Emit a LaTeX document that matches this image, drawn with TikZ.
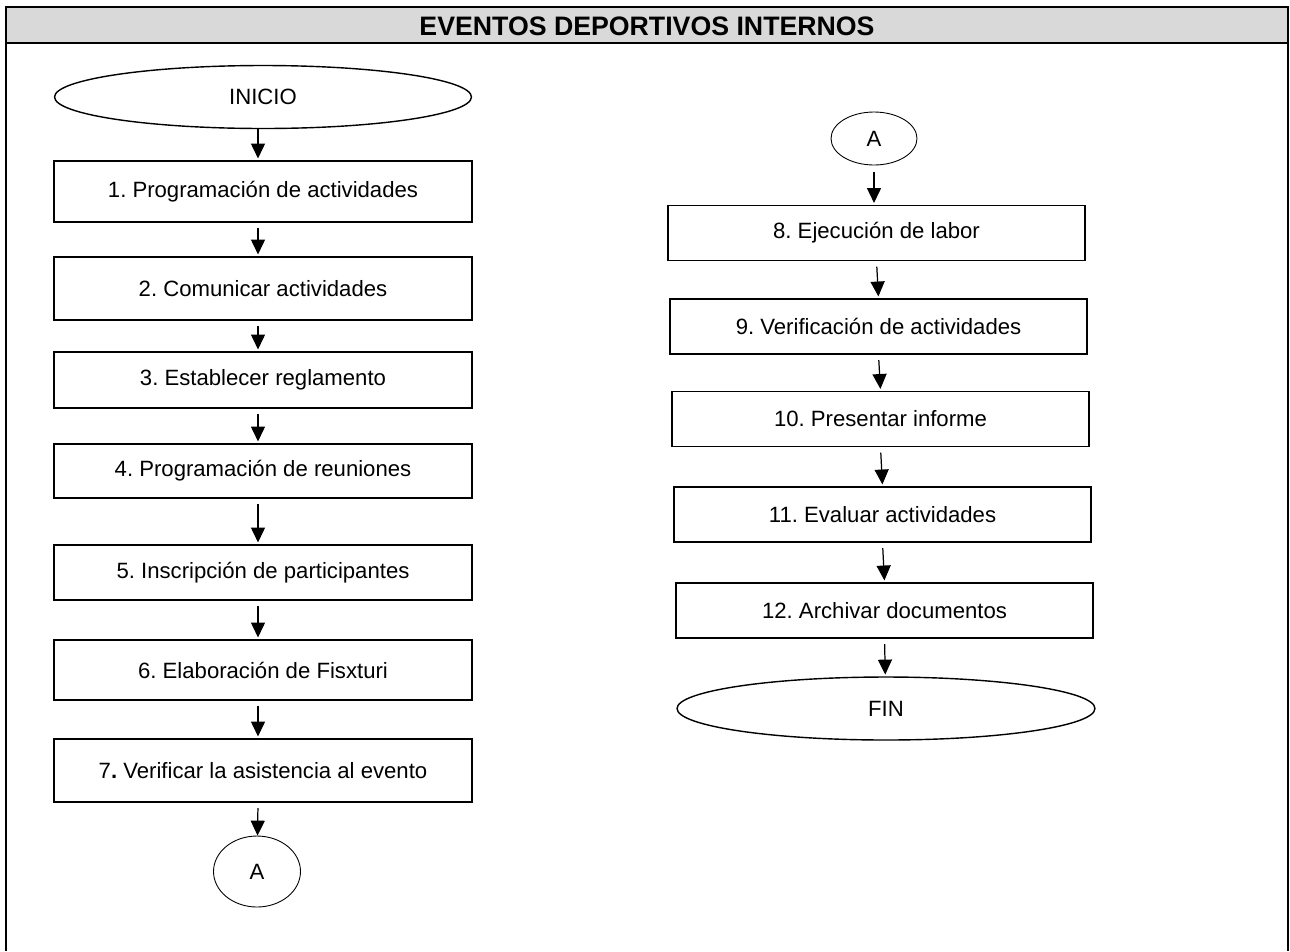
\documentclass[tikz,border=0pt]{standalone}
\usepackage{fontspec}
\setmainfont{Liberation Sans}
\usepackage{xcolor}
\usepackage{tikz}
\usetikzlibrary{arrows.meta,shapes.geometric}
\definecolor{titlegray}{RGB}{217,217,217}
\frenchspacing

\begin{document}
\begin{tikzpicture}[x=0.02cm,y=-0.02cm,>={Triangle[length=8.5pt,width=8pt]}] % diagrama de flujo
	\useasboundingbox (0,0) rectangle (1290,951);
	
	% marco y titulo
	\fill[titlegray] (6,7) rectangle (1288,43);
	\draw[line width=1.3pt] (6,951) -- (6,7) -- (1288,7) -- (1288,951);
	\draw[line width=1.3pt] (6,43) -- (1288,43);
	\node[text=black,font={\fontsize{15.2}{18}\selectfont\bfseries}] 
	(titulo) at (647,26){EVENTOS DEPORTIVOS INTERNOS};
	
	\node[ellipse,draw,line width=0.8pt,text=black,font={\fontsize{12.6}{15}\selectfont},minimum width=8.34cm,minimum height=1.26cm] 
	(ini) at (263,97){INICIO};
	
	\foreach \i/\y/\h/\name in {1/191.5/1.22/{1. Programación de actividades},2/288.5/1.26/{2. Comunicar actividades},3/380/1.12/{3. Establecer reglamento},4/471/1.08/{4. Programación de reuniones},5/572.5/1.1/{5. Inscripción de participantes},6/670/1.2/{6. Elaboración de Fisxturi},7/770.5/1.26/{7\textbf{.} Verificar la asistencia al evento}}{
		\node[rectangle,draw,line width=0.9pt,text=black,font={\fontsize{12.6}{15}\selectfont},minimum width=8.36cm,minimum height=\h cm] 
		(b\i) at (263,\y){\name};
	}
	
	\foreach \i/\x/\y/\name in {8/876.5/233/{8. Ejecución de labor},9/878.5/326.5/{9. Verificación de actividades},10/880.5/419/{10. Presentar informe},11/882.5/514.5/{11. Evaluar actividades},12/884.5/610.5/{12. Archivar documentos}}{
		\node[rectangle,draw,line width=0.9pt,text=black,font={\fontsize{12.6}{15}\selectfont},minimum width=8.34cm,minimum height=1.1cm] 
		(b\i) at (\x,\y){\name};
	}
	
	\node[ellipse,draw,line width=0.8pt,text=black,font={\fontsize{12.6}{15}\selectfont},minimum width=8.36cm,minimum height=1.26cm] 
	(fin) at (886,708.5){FIN};
	
	% conectores A
	\node[ellipse,draw,line width=0.5pt,text=black,font={\fontsize{12.6}{15}\selectfont},minimum width=1.74cm,minimum height=1.42cm] 
	(a1) at (257,871.5){A};
	\node[ellipse,draw,line width=0.5pt,text=black,font={\fontsize{12.6}{15}\selectfont},minimum width=1.72cm,minimum height=1.06cm] 
	(a2) at (874,138.5){A};
	
	% flechas
	\draw[->,line width=0.7pt,shorten >=1pt] ([xshift=-0.1cm]ini.south) -- ([xshift=-0.1cm]b1.north);
	\foreach \i/\j in {1/2,2/3,3/4,4/5,5/6,6/7}{
		\draw[->,line width=0.7pt,shorten <=3pt,shorten >=1pt] ([xshift=-0.1cm]b\i.south) -- ([xshift=-0.1cm]b\j.north);}
	\draw[->,line width=0.7pt,shorten <=3pt] ([xshift=-0.1cm]b7.south) -- (a1);
	
	\draw[->,line width=0.7pt,shorten <=4pt,shorten >=1pt] (a2) -- (a2 |- b8.north);
	\foreach \i/\j in {8/9,9/10,10/11,11/12}{
		\draw[->,line width=0.7pt,shorten <=3pt,shorten >=1pt] (b\i.south) -- (b\j.north);}
	\draw[->,line width=0.7pt,shorten <=3pt,shorten >=1pt] (b12.south) -- (fin);
	
\end{tikzpicture}
\end{document}
